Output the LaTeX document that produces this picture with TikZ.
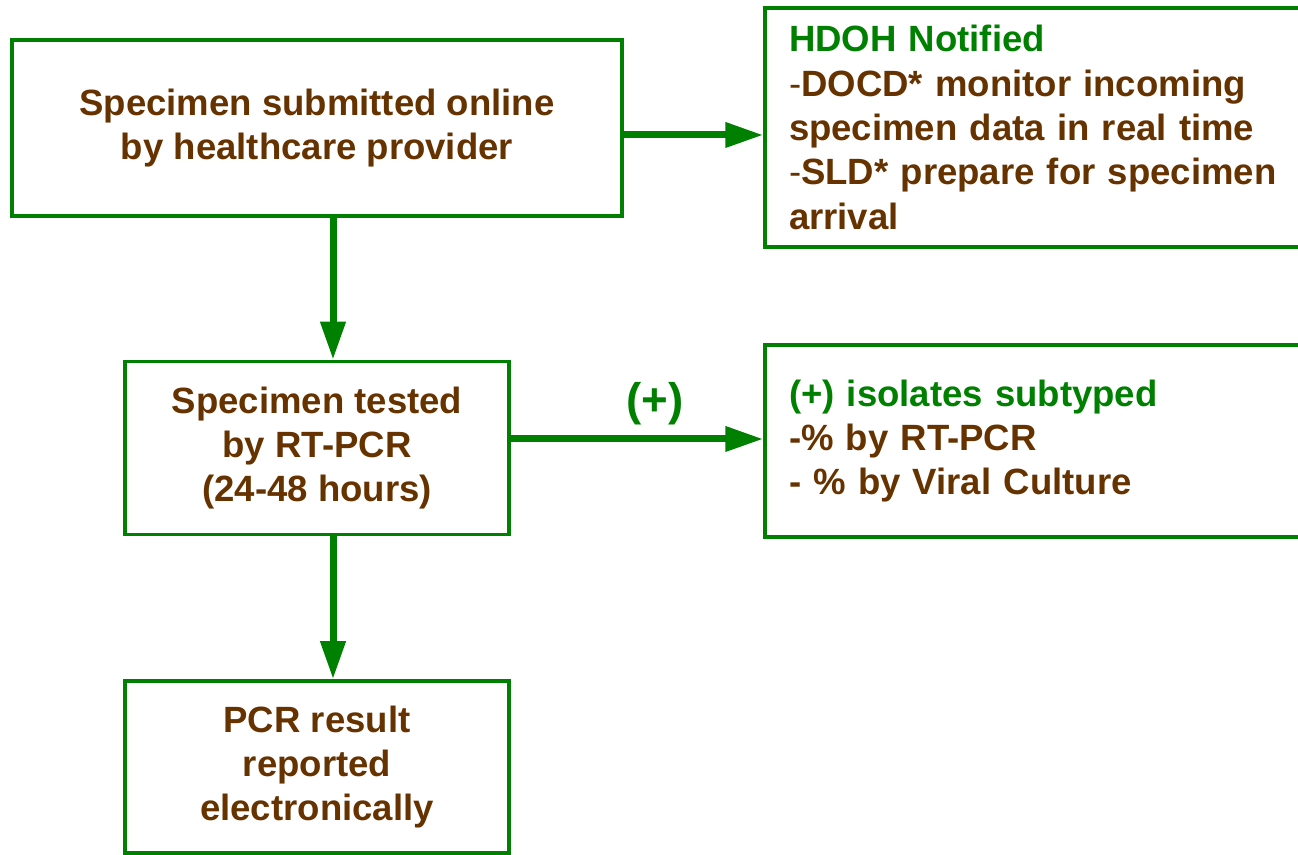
\documentclass[tikz,border=0pt]{standalone}
\usepackage{fontspec}
\setmainfont{Liberation Sans}
\usepackage{tikz}
\usetikzlibrary{arrows.meta, calc, positioning}
\definecolor{boxgreen}{RGB}{0,128,0}
\definecolor{textbrown}{RGB}{102,51,0}
\tikzset{
   flowbox/.style={
     draw=boxgreen, line width=2pt, text=textbrown,
     font=\bfseries\fontsize{20.8}{25.2}\selectfont
   },
   stepbox/.style={
      flowbox,
      align=center, minimum width=7.68cm, minimum height=3.46cm
   },
   notebox/.style={
      flowbox,
      align=left, minimum width=11.1cm, text width=10.14cm, inner xsep=0.48cm
   },
   flowline/.style={-{Triangle[length=0.76cm, width=0.48cm]}, boldgreen},
   boldgreen/.style={draw=boxgreen, line width=0.14cm},
   headline/.style={text=boxgreen}
}

\begin{document}
\begin{tikzpicture}[auto, node distance=1cm and 1.5cm]
      \useasboundingbox (0,0) rectangle (25.96,17.1);

      \node[stepbox, minimum width=12.2cm, minimum height=3.52cm](submitted) at (6.34,14.54) {Specimen submitted online\\ by healthcare provider};
      \node[stepbox](tested) at (6.34,8.14) {Specimen tested\\ by RT-PCR\\ (24-48 hours)};
      \node[stepbox, minimum height=3.44cm](reported) at (6.34,1.76) {PCR result\\ reported\\ electronically};

      \node[notebox, minimum height=4.78cm](notified) at (20.85,14.55) {{\color{boxgreen}HDOH Notified}\\ \textmd{-}DOCD* monitor incoming\\ specimen data in real time\\ \textmd{-}SLD* prepare for specimen\\ arrival};
      \node[notebox, minimum height=3.84cm](subtyped) at (20.85,8.28) {{\color{boxgreen}(+) isolates subtyped}\\ -\% by RT-PCR\\ - \% by Viral Culture};

      \draw[flowline] ([xshift=0.32cm]submitted.south) -- ([xshift=0.32cm]tested.north);
      \draw[flowline] ([xshift=0.32cm]tested.south) -- ([xshift=0.32cm]reported.north);

      \draw[flowline] ([yshift=-0.14cm]submitted.east) -- ([yshift=-0.14cm]submitted.east -| notified.west);
      \draw[flowline] ([yshift=0.18cm]tested.east) -- node[pos=0.57, above=0.1cm, headline, font=\bfseries\fontsize{26}{30}\selectfont](plus){(+)} ([yshift=0.18cm]tested.east -| subtyped.west);
   \end{tikzpicture}
\end{document}
